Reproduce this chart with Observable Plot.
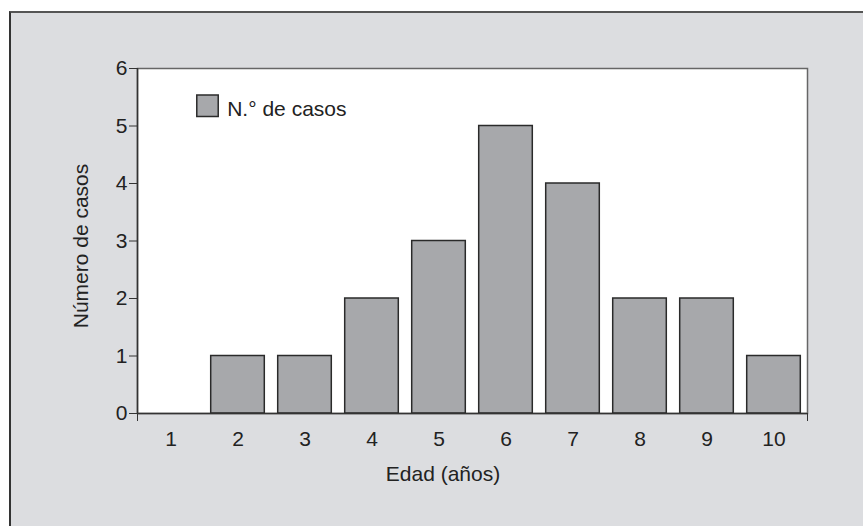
<!DOCTYPE html>
<html>
<head>
<meta charset="utf-8">
<script src="https://cdn.jsdelivr.net/npm/d3@7"></script>
<script src="https://cdn.jsdelivr.net/npm/@observablehq/plot@0.6"></script>
<style>
  html, body { margin: 0; padding: 0; background: #ffffff; }
  #wrap { position: relative; width: 863px; height: 526px; overflow: hidden; }
  #panel { position: absolute; left: 9px; top: 11px; right: 0; bottom: 0;
           background: #dcdde0; border-top: 2px solid #555; border-left: 2px solid #333; }
  #chart { position: absolute; left: 0; top: 0; }
</style>
</head>
<body>
<div id="wrap"><div id="panel"></div><div id="chart"></div></div>
<script>
const ages = [1, 2, 3, 4, 5, 6, 7, 8, 9, 10];
const cases = [0, 1, 1, 2, 3, 5, 4, 2, 2, 1];
const yTicks = [0, 1, 2, 3, 4, 5, 6];
const xDomain = [0.5, 10.5];
const xTitle = "Edad (años)";
const yTitle = "Número de casos";
const legendLabel = "N.° de casos";

const data = ages.map((a, i) => ({age: a, cases: cases[i]})).filter(d => d.cases > 0);
const font = "'Liberation Sans', Arial, Helvetica, sans-serif";
const textColor = "#222";

const chart = Plot.plot({
  width: 863,
  height: 526,
  marginLeft: 137,
  marginRight: 56,
  marginTop: 68,
  marginBottom: 113,
  style: {background: "transparent", fontFamily: font, fontSize: "21px", color: textColor},
  x: {type: "linear", domain: xDomain, label: null},
  y: {domain: [0, 6], label: null},
  marks: [
    Plot.frame({fill: "white", stroke: "#666", strokeWidth: 1.5}),
    Plot.rectY(data, {x1: d => d.age - 0.4, x2: d => d.age + 0.4, y: "cases",
      fill: "#a7a8ab", stroke: "#2a2a2a", strokeWidth: 1.5}),
    Plot.ruleY([0], {stroke: "#333", strokeWidth: 1.5}),
    Plot.ruleX([xDomain[0]], {stroke: "#333", strokeWidth: 1.5}),
    Plot.axisY({ticks: yTicks, tickSize: 8, tickPadding: 2, fontSize: 21, label: null,
      tickFormat: d3.format("d"), stroke: "#333", fill: textColor}),
    Plot.axisX({ticks: ages, tickSize: 0, tickPadding: 18, fontSize: 21, label: null,
      tickFormat: d3.format("d"), fill: textColor}),
    Plot.axisX({ticks: xDomain, tickSize: 8, tickFormat: () => "", label: null, stroke: "#333"}),
    Plot.text([xTitle], {frameAnchor: "bottom", textAnchor: "middle", dx: -29.5, dy: 61,
      lineAnchor: "middle", fontSize: 21, fill: textColor}),
    Plot.text([yTitle], {frameAnchor: "left", textAnchor: "middle", rotate: -90, dx: -56.5, dy: 5,
      lineAnchor: "middle", fontSize: 21, fill: textColor}),
    Plot.dot([legendLabel], {frameAnchor: "top-left", dx: 70, dy: 37.3, symbol: "square", r: 12.1,
      fill: "#a7a8ab", stroke: "#2a2a2a", strokeWidth: 1.5}),
    Plot.text([legendLabel], {frameAnchor: "top-left", dx: 89.7, dy: 40.3, textAnchor: "start",
      lineAnchor: "middle", fontSize: 21, fill: textColor})
  ]
});
document.getElementById("chart").appendChild(chart);
</script>
</body>
</html>
